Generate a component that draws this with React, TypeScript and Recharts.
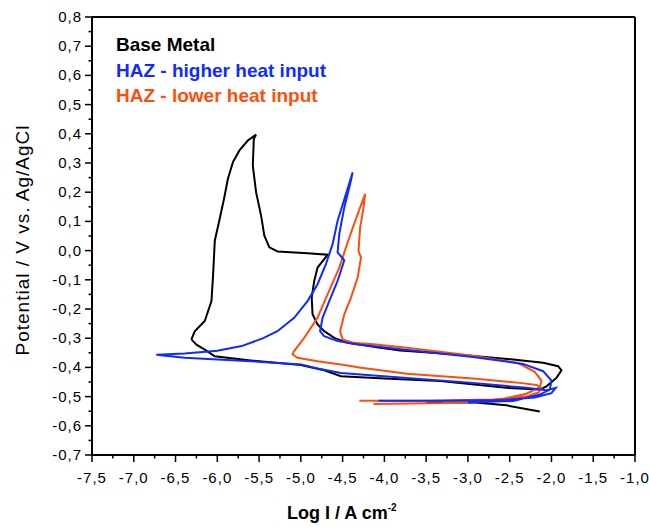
import React from "react";
import { LineChart, Line, XAxis, YAxis, ReferenceLine } from "recharts";

// log I (A cm-2) vs potential (V vs Ag/AgCl), points in scan order
const baseMetalLoop: [number, number][] = [
  [-6.31, -0.304], [-6.27, -0.276], [-6.15, -0.241], [-6.07, -0.173], [-6.05, -0.081],
  [-6.03, 0.034], [-5.972, 0.108], [-5.92, 0.177], [-5.873, 0.246], [-5.813, 0.303],
  [-5.735, 0.343], [-5.635, 0.377], [-5.536, 0.397], [-5.563, 0.383], [-5.575, 0.291],
  [-5.536, 0.2], [-5.476, 0.12], [-5.437, 0.051], [-5.377, 0.011], [-5.278, -0.003],
  [-4.92, -0.009], [-4.68, -0.014], [-4.72, -0.029], [-4.8, -0.058], [-4.84, -0.104],
  [-4.87, -0.161], [-4.86, -0.218], [-4.8, -0.253], [-4.72, -0.276], [-4.6, -0.299],
  [-4.44, -0.316], [-4.05, -0.333], [-3.81, -0.342], [-3.13, -0.356], [-2.46, -0.373],
  [-2.1, -0.384], [-1.92, -0.396], [-1.88, -0.41], [-1.94, -0.436], [-2.06, -0.465],
  [-2.14, -0.476], [-2.54, -0.47], [-3.33, -0.447], [-4.0, -0.438], [-4.52, -0.43],
  [-4.72, -0.41], [-5.0, -0.392], [-5.6, -0.376], [-6.03, -0.362], [-6.15, -0.339],
  [-6.25, -0.322], [-6.31, -0.304],
];
const baseMetalTail: [number, number][] = [
  [-3.5, -0.521], [-2.94, -0.519], [-2.54, -0.53], [-2.14, -0.551],
];
const hazHigher: [number, number][] = [
  [-4.07, -0.514], [-3.3, -0.514], [-2.6, -0.512], [-2.2, -0.503], [-2.0, -0.488],
  [-1.95, -0.47], [-2.06, -0.478], [-2.3, -0.47], [-2.94, -0.453], [-3.73, -0.436],
  [-4.52, -0.419], [-4.8, -0.404], [-5.0, -0.39], [-5.6, -0.379], [-6.39, -0.367],
  [-6.73, -0.357], [-6.39, -0.352], [-6.0, -0.343], [-5.71, -0.327], [-5.45, -0.3],
  [-5.28, -0.276], [-5.08, -0.23], [-4.92, -0.173], [-4.8, -0.115], [-4.7, -0.046],
  [-4.62, 0.022], [-4.56, 0.102], [-4.46, 0.194], [-4.38, 0.268], [-4.4, 0.24],
  [-4.48, 0.148], [-4.54, 0.057], [-4.56, -0.006], [-4.48, -0.033], [-4.56, -0.104],
  [-4.66, -0.173], [-4.74, -0.23], [-4.77, -0.276], [-4.72, -0.293], [-4.56, -0.31],
  [-4.33, -0.321], [-3.81, -0.338], [-2.94, -0.364], [-2.34, -0.388], [-2.1, -0.413],
  [-2.0, -0.445], [-2.02, -0.476], [-2.14, -0.493], [-2.46, -0.515], [-3.0, -0.52],
];
const hazLower: [number, number][] = [
  [-4.3, -0.514], [-3.5, -0.514], [-2.7, -0.51], [-2.3, -0.5], [-2.15, -0.485],
  [-2.12, -0.47], [-2.18, -0.46], [-2.38, -0.453], [-2.94, -0.438], [-3.73, -0.422],
  [-4.3, -0.4], [-4.52, -0.39], [-4.8, -0.379], [-5.04, -0.367], [-5.1, -0.355],
  [-5.08, -0.344], [-4.96, -0.299], [-4.8, -0.23], [-4.68, -0.15], [-4.54, -0.058],
  [-4.42, 0.045], [-4.32, 0.125], [-4.23, 0.194], [-4.25, 0.148], [-4.29, 0.079],
  [-4.31, -0.001], [-4.28, -0.024], [-4.32, -0.092], [-4.4, -0.161], [-4.48, -0.218],
  [-4.53, -0.276], [-4.5, -0.304], [-4.37, -0.316], [-4.13, -0.321], [-3.73, -0.333],
  [-2.94, -0.36], [-2.4, -0.385], [-2.2, -0.415], [-2.12, -0.445], [-2.14, -0.468],
  [-2.3, -0.49], [-2.7, -0.515], [-3.3, -0.522], [-4.13, -0.525],
];

const xTicks = [
  -7.5, -7.25, -7, -6.75, -6.5, -6.25, -6, -5.75, -5.5, -5.25, -5, -4.75, -4.5, -4.25,
  -4, -3.75, -3.5, -3.25, -3, -2.75, -2.5, -2.25, -2, -1.75, -1.5, -1.25, -1,
];
const yTicks = [
  -0.7, -0.65, -0.6, -0.55, -0.5, -0.45, -0.4, -0.35, -0.3, -0.25, -0.2, -0.15, -0.1,
  -0.05, 0, 0.05, 0.1, 0.15, 0.2, 0.25, 0.3, 0.35, 0.4, 0.45, 0.5, 0.55, 0.6, 0.65,
  0.7, 0.75, 0.8,
];

const FONT = "'Liberation Sans', Arial, sans-serif";
const BLACK = "#000000";
const BLUE = "#0f2bff";
const ORANGE = "#ff4e0c";

const toPoints = (arr: [number, number][]) => arr.map(([x, y]) => ({ x, y }));
const fmt = (v: number) => v.toFixed(1).replace(".", ",");
const onStep = (v: number, step: number) => Math.abs(v / step - Math.round(v / step)) < 1e-6;

function XTick(props: any) {
  const { x, y, payload } = props;
  const major = onStep(payload.value, 0.5);
  return (
    <g>
      <line x1={x} y1={y} x2={x} y2={y + (major ? 7 : 3.5)} stroke="#000" strokeWidth={1.5} />
      {major && (
        <text x={x} y={y + 28} textAnchor="middle" fontSize={15} fontFamily={FONT} letterSpacing={1} fill="#000">
          {fmt(payload.value)}
        </text>
      )}
    </g>
  );
}

function YTick(props: any) {
  const { x, y, payload } = props;
  const major = onStep(payload.value, 0.1);
  return (
    <g>
      <line x1={x} y1={y} x2={x - (major ? 7 : 3.5)} y2={y} stroke="#000" strokeWidth={1.5} />
      {major && (
        <text x={x - 10} y={y + 5} textAnchor="end" fontSize={15} fontFamily={FONT} letterSpacing={1} fill="#000">
          {fmt(payload.value)}
        </text>
      )}
    </g>
  );
}

export default function App() {
  return (
    <div style={{ position: "absolute", left: 0, top: 0, width: 649, height: 529, background: "#fff" }}>
      <LineChart width={649} height={529} margin={{ top: 17, right: 14, bottom: 0, left: 0 }}>
        <XAxis
          type="number"
          dataKey="x"
          domain={[-7.5, -1]}
          ticks={xTicks}
          interval={0}
          height={74}
          tickSize={0}
          tickMargin={0}
          tickLine={false}
          axisLine={{ stroke: "#000", strokeWidth: 2 }}
          tick={(p: any) => <XTick {...p} />}
          allowDataOverflow
        />
        <YAxis
          type="number"
          dataKey="y"
          domain={[-0.7, 0.8]}
          ticks={yTicks}
          interval={0}
          width={92}
          tickSize={0}
          tickMargin={0}
          tickLine={false}
          axisLine={{ stroke: "#000", strokeWidth: 2 }}
          tick={(p: any) => <YTick {...p} />}
          allowDataOverflow
        />
        <ReferenceLine y={0.8} stroke="#000" strokeWidth={2} />
        <ReferenceLine x={-1} stroke="#000" strokeWidth={2} />
        <Line data={toPoints(baseMetalLoop)} dataKey="y" type="linear" stroke={BLACK} strokeWidth={2} dot={false} isAnimationActive={false} />
        <Line data={toPoints(baseMetalTail)} dataKey="y" type="linear" stroke={BLACK} strokeWidth={2} dot={false} isAnimationActive={false} />
        <Line data={toPoints(hazLower)} dataKey="y" type="linear" stroke={ORANGE} strokeWidth={2} dot={false} isAnimationActive={false} />
        <Line data={toPoints(hazHigher)} dataKey="y" type="linear" stroke={BLUE} strokeWidth={2} dot={false} isAnimationActive={false} />
      </LineChart>

      <svg width={649} height={529} style={{ position: "absolute", left: 0, top: 0, pointerEvents: "none" }}>
        <text transform="translate(29,240) rotate(-90)" textAnchor="middle" fontSize={19} fontFamily={FONT} letterSpacing={1} fill="#000">
          Potential / V vs. Ag/AgCl
        </text>
        <text x={287} y={519} fontSize={18} fontWeight="bold" fontFamily={FONT} fill="#000">
          Log I / A cm<tspan dy={-8} fontSize={10}>-2</tspan>
        </text>
        <text x={116} y={51} fontSize={19} fontWeight="bold" fontFamily={FONT} fill={BLACK}>Base Metal</text>
        <text x={116} y={76.5} fontSize={19} fontWeight="bold" fontFamily={FONT} fill={BLUE}>HAZ - higher heat input</text>
        <text x={116} y={102} fontSize={19} fontWeight="bold" fontFamily={FONT} fill={ORANGE}>HAZ - lower heat input</text>
      </svg>
    </div>
  );
}
